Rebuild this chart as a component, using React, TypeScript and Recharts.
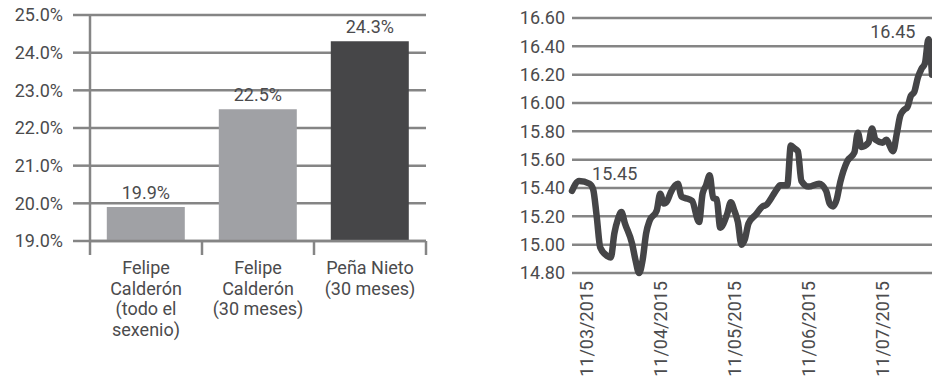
import { BarChart, Bar, XAxis, YAxis, CartesianGrid, Cell, LabelList, LineChart, Line } from "recharts"

const FONT = "Roboto, 'DejaVu Sans', sans-serif"
const TEXT = "#4b4b4d"
const GRID = "#858585"

// left panel: share per period
const periods = ["Felipe Calderón (todo el sexenio)", "Felipe Calderón (30 meses)", "Peña Nieto (30 meses)"]
const periodLines = [
  ["Felipe", "Calderón", "(todo el", "sexenio)"],
  ["Felipe", "Calderón", "(30 meses)"],
  ["Peña Nieto", "(30 meses)"],
]
const shares = [19.9, 22.5, 24.3]
const barColors = ["#a0a1a5", "#a0a1a5", "#464648"]
const shareTicks = [19, 20, 21, 22, 23, 24, 25]

// right panel: exchange rate by trading day
const tradingDay = [
  0, 2, 5, 6, 7, 8, 10, 11, 12, 13, 14, 15, 17, 18, 19, 20, 21, 22, 24, 25, 26, 27, 28, 30, 31, 32, 34, 36, 37, 38,
  39, 40, 41, 42, 44, 45, 46, 47, 48, 49, 50, 52, 54, 55, 57, 58, 59, 61, 62, 63, 64, 65, 67, 70, 72, 73, 74, 75, 76,
  78, 80, 81, 82, 84, 85, 86, 88, 89, 91, 92, 93, 94, 95, 96, 97, 98, 99, 100, 101, 102,
]
const rate = [
  15.38, 15.45, 15.43, 15.39, 15.2, 14.98, 14.92, 14.91, 15.08, 15.18, 15.23, 15.15, 15.01, 14.89, 14.8, 14.89, 15.08,
  15.17, 15.24, 15.36, 15.29, 15.31, 15.37, 15.43, 15.34, 15.33, 15.31, 15.16, 15.36, 15.42, 15.49, 15.33, 15.32, 15.12,
  15.22, 15.3, 15.24, 15.16, 15.0, 15.04, 15.15, 15.21, 15.27, 15.28, 15.35, 15.39, 15.42, 15.42, 15.7, 15.68, 15.66,
  15.45, 15.41, 15.43, 15.38, 15.29, 15.27, 15.32, 15.44, 15.59, 15.65, 15.79, 15.69, 15.72, 15.82, 15.74, 15.72, 15.74,
  15.66, 15.78, 15.91, 15.95, 15.97, 16.05, 16.08, 16.18, 16.24, 16.28, 16.45, 16.2,
]
const rateTicks = [14.8, 15.0, 15.2, 15.4, 15.6, 15.8, 16.0, 16.2, 16.4, 16.6]
const dateTickDay = [4, 25, 46, 67, 88]
const dateTickLabel = ["11/03/2015", "11/04/2015", "11/05/2015", "11/06/2015", "11/07/2015"]
const annotatedDays = [2, 101]

const barData = periods.map((name, i) => ({ name, share: shares[i] }))
const lineData = tradingDay.map((day, i) => ({ day, rate: rate[i] }))

function PeriodTick(props: any) {
  const { x, y, payload } = props
  const idx = periods.indexOf(payload.value)
  const half = payload.offset || 56
  const lines = periodLines[idx] || []
  return (
    <g>
      <line x1={x - half} x2={x - half} y1={y} y2={y + 14} stroke={GRID} strokeWidth={2.5} />
      {idx === periods.length - 1 && (
        <line x1={x + half} x2={x + half} y1={y} y2={y + 14} stroke={GRID} strokeWidth={2.5} />
      )}
      <text x={x} y={y + 33} textAnchor="middle" fill={TEXT} fontSize={18} fontFamily={FONT}>
        {lines.map((l, i) => (
          <tspan key={i} x={x} dy={i === 0 ? 0 : 20.5}>
            {l}
          </tspan>
        ))}
      </text>
    </g>
  )
}

function DateTick(props: any) {
  const { x, y, payload } = props
  const label = dateTickLabel[dateTickDay.indexOf(payload.value)]
  return (
    <text
      x={x}
      y={y}
      dy="0.36em"
      textAnchor="end"
      transform={`rotate(-90, ${x}, ${y})`}
      fill={TEXT}
      fontSize={18}
      fontFamily={FONT}
    >
      {label}
    </text>
  )
}

function RateNote(props: any) {
  const { index, value } = props
  const vb = props.viewBox || {}
  const px = vb.x ?? props.x
  const py = vb.y ?? props.y
  const day = tradingDay[index]
  if (!annotatedDays.includes(day)) return null
  const last = day === annotatedDays[annotatedDays.length - 1]
  return (
    <text
      x={last ? px - 13 : px + 13}
      y={py - 1}
      textAnchor={last ? "end" : "start"}
      fill={TEXT}
      fontSize={18}
      fontFamily={FONT}
    >
      {Number(value).toFixed(2)}
    </text>
  )
}

export default function App() {
  return (
    <div style={{ position: "absolute", left: 0, top: 0, width: 932, height: 377, background: "#fff", overflow: "hidden" }}>
      <div style={{ position: "absolute", left: 0, top: 0 }}>
        <BarChart width={440} height={377} data={barData} margin={{ top: 15, right: 14, left: 0, bottom: 16 }} barCategoryGap="15%">
          <CartesianGrid vertical={false} stroke={GRID} strokeWidth={2.5} />
          <YAxis
            width={90}
            domain={[19, 25]}
            ticks={shareTicks}
            interval={0}
            tickFormatter={(v: number) => v.toFixed(1) + "%"}
            tickSize={17}
            tickMargin={10}
            tickLine={{ stroke: GRID, strokeWidth: 2.5 }}
            axisLine={{ stroke: GRID, strokeWidth: 2.5 }}
            tick={{ fill: TEXT, fontSize: 18, fontFamily: FONT }}
          />
          <XAxis
            dataKey="name"
            height={120}
            interval={0}
            tickSize={0}
            tickMargin={0}
            tickLine={false}
            axisLine={{ stroke: GRID, strokeWidth: 2.5 }}
            tick={<PeriodTick />}
          />
          <Bar dataKey="share" isAnimationActive={false}>
            {barData.map((_, i) => (
              <Cell key={i} fill={barColors[i]} />
            ))}
            <LabelList
              dataKey="share"
              position="top"
              offset={8}
              formatter={(v: any) => Number(v).toFixed(1) + "%"}
              style={{ fill: TEXT, fontSize: 18, fontFamily: FONT }}
            />
          </Bar>
        </BarChart>
      </div>
      <div style={{ position: "absolute", left: 460, top: 0 }}>
        <LineChart width={472} height={377} data={lineData} margin={{ top: 18, right: 0, left: 0, bottom: 0 }}>
          <CartesianGrid vertical={false} stroke={GRID} strokeWidth={2.5} />
          <YAxis
            width={112}
            domain={[14.8, 16.6]}
            ticks={rateTicks}
            interval={0}
            tickFormatter={(v: number) => v.toFixed(2)}
            tickSize={0}
            tickMargin={7}
            tickLine={false}
            axisLine={false}
            tick={{ fill: TEXT, fontSize: 18, fontFamily: FONT }}
          />
          <XAxis
            dataKey="day"
            type="number"
            domain={[0, 102]}
            ticks={dateTickDay}
            interval={0}
            height={104}
            tickSize={0}
            tickMargin={8}
            tickLine={false}
            axisLine={false}
            tick={<DateTick />}
          />
          <Line
            type="monotoneX"
            dataKey="rate"
            stroke="#454547"
            strokeWidth={6.5}
            strokeLinejoin="round"
            strokeLinecap="round"
            dot={false}
            activeDot={false}
            isAnimationActive={false}
          >
            <LabelList dataKey="rate" content={<RateNote />} />
          </Line>
        </LineChart>
      </div>
    </div>
  )
}
